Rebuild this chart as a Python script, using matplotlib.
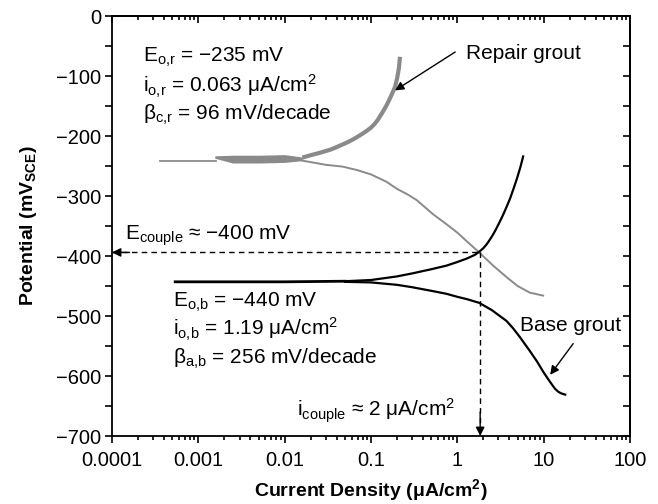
import matplotlib
matplotlib.use("Agg")
import matplotlib.pyplot as plt
import matplotlib.ticker as mticker
import numpy as np

plt.rcParams['font.family'] = ['Liberation Sans', 'DejaVu Sans']
plt.rcParams['mathtext.fontset'] = 'custom'
plt.rcParams['mathtext.rm'] = 'Liberation Sans'
plt.rcParams['mathtext.it'] = 'Liberation Sans'
plt.rcParams['mathtext.bf'] = 'Liberation Sans:bold'

# Repair grout (grey)
repair_flat_i = [0.00036, 0.0016]
repair_flat_E = [-241, -241]
repair_band_i = [0.00155, 0.0025, 0.005, 0.01, 0.016]
repair_band_hi = [-233, -232, -232, -231, -235]
repair_band_lo = [-237, -245, -245, -244, -241]
repair_up_i = [0.016, 0.02, 0.024, 0.03, 0.035, 0.047, 0.056, 0.065, 0.08, 0.09, 0.1,
               0.11, 0.12, 0.134, 0.15, 0.16, 0.175, 0.19, 0.2, 0.21, 0.217]
repair_up_E = [-236, -232, -229, -225, -222, -214, -209, -204, -196, -191, -186,
               -180, -173, -162, -150, -142, -130, -118, -105, -88, -68]
repair_dn_i = [0.016, 0.03, 0.047, 0.07, 0.1, 0.15, 0.2, 0.27, 0.34, 0.52, 0.75, 1.0,
               1.3, 1.79, 2.6, 3.78, 5.0, 6.9, 9.87]
repair_dn_E = [-241, -248, -251, -257, -264, -276, -288, -298, -307, -330, -347, -361,
               -376, -394, -416, -436, -450, -461, -466]

# Base grout (black)
base_flat_i = [0.00054, 0.002, 0.01, 0.05]
base_flat_E = [-443, -443, -443, -442]
base_up_i = [0.05, 0.1, 0.2, 0.3, 0.5, 0.75, 1.0, 1.3, 1.6, 1.79, 2.0, 2.2, 2.4, 2.6,
             2.79, 3.1, 3.4, 3.7, 4.09, 4.5, 4.93, 5.4, 5.79]
base_up_E = [-442, -440, -434, -429, -422, -416, -410, -404, -398, -393, -387, -380,
             -372, -364, -356, -343, -331, -319, -304, -287, -270, -251, -234]
base_dn_i = [0.05, 0.1, 0.2, 0.3, 0.5, 0.75, 1.0, 1.3, 1.79, 2.5, 3.7, 4.4, 5.3, 6.9,
             8.4, 10.0, 11.5, 12.3, 13.5, 14.7, 16.0, 17.8]
base_dn_E = [-443, -444, -448, -452, -458, -463, -468, -472, -478, -490, -508, -520,
             -535, -558, -576, -594, -607, -613, -621, -626, -629, -631]

couple_i = 1.84
couple_E = -394

xticks = [0.0001, 0.001, 0.01, 0.1, 1, 10, 100]
xtick_labels = ['0.0001', '0.001', '0.01', '0.1', '1', '10', '100']
yticks = [0, -100, -200, -300, -400, -500, -600, -700]

grey = '#8a8a8a'

fig = plt.figure(figsize=(6.58, 5.04), dpi=100)
ax = fig.add_axes([0.1702, 0.1349, 0.7872, 0.8333])

ax.plot(repair_flat_i, repair_flat_E, color=grey, lw=1.3)
ax.fill_between(repair_band_i, repair_band_lo, repair_band_hi, color=grey, lw=0)
ax.plot(repair_up_i, repair_up_E, color=grey, lw=3.0, solid_capstyle='butt')
ax.plot(repair_dn_i, repair_dn_E, color=grey, lw=1.4)

ax.plot(base_flat_i, base_flat_E, color='k', lw=2.0)
ax.plot(base_up_i, base_up_E, color='k', lw=1.6)
ax.plot(base_dn_i, base_dn_E, color='k', lw=1.6)

# couple lines
ax.plot([1e-4, couple_i], [couple_E, couple_E], color='k', lw=1.0, ls=(0, (4, 3)))
ax.plot([couple_i, couple_i], [couple_E, -700], color='k', lw=1.0, ls=(0, (4, 3)))
ax.annotate('', xy=(1e-4, couple_E), xytext=(1.6e-4, couple_E),
            arrowprops=dict(arrowstyle='-|>', color='k', lw=1.0, mutation_scale=13,
                            shrinkA=0, shrinkB=0), annotation_clip=False)
ax.annotate('', xy=(couple_i, -700), xytext=(couple_i, -660),
            arrowprops=dict(arrowstyle='-|>', color='k', lw=1.0, mutation_scale=13,
                            shrinkA=0, shrinkB=0), annotation_clip=False)

ax.set_xscale('log')
ax.set_xlim(1e-4, 100)
ax.set_ylim(-700, 0)
ax.set_xticks(xticks)
ax.set_xticklabels(xtick_labels)
ax.xaxis.set_minor_locator(mticker.LogLocator(base=10, subs=np.arange(2, 10)))
ax.xaxis.set_minor_formatter(mticker.NullFormatter())
ax.set_yticks(yticks)
ax.yaxis.set_minor_locator(mticker.MultipleLocator(50))

ax.tick_params(axis='both', which='both', labelsize=14.5, width=1.2)
ax.tick_params(axis='x', which='major', direction='out', length=5, top=False, pad=6)
ax.tick_params(axis='x', which='minor', direction='out', length=3, top=False)
ax.tick_params(axis='y', which='both', direction='out', length=5, right=False, pad=3)

# ticks pointing inward on top and right
axt = ax.secondary_xaxis('top')
axt.set_xticks(xticks)
axt.xaxis.set_minor_locator(mticker.LogLocator(base=10, subs=np.arange(2, 10)))
axt.tick_params(axis='x', which='major', direction='in', length=5, width=1.2, labeltop=False)
axt.tick_params(axis='x', which='minor', direction='in', length=3, width=1.2)
axt.xaxis.set_major_formatter(mticker.NullFormatter())
axt.xaxis.set_minor_formatter(mticker.NullFormatter())
axr = ax.secondary_yaxis('right')
axr.set_yticks(yticks)
axr.yaxis.set_minor_locator(mticker.MultipleLocator(50))
axr.tick_params(axis='y', which='both', direction='in', length=5, width=1.2, labelright=False)
axr.yaxis.set_major_formatter(mticker.NullFormatter())

for sp in list(ax.spines.values()) + list(axt.spines.values()) + list(axr.spines.values()):
    sp.set_linewidth(1.3)

ax.set_xlabel('Current Density (μA/cm$^{\\mathbf{2}}$)', fontsize=14, fontweight='bold', labelpad=5)
ax.set_ylabel('Potential (mV$_{\\mathbf{SCE}}$)', fontsize=14, fontweight='bold', labelpad=12)

fs = 15
def axpos(px, py):
    return ((px - 112) / 518, (436 - py) / 420)

txt = [
    ((143, 62), 'E$_{\\mathrm{o{,}r}}$ = −235 mV'),
    ((143, 92), 'i$_{\\mathrm{o{,}r}}$ = 0.063 μA/cm$^{2}$'),
    ((143, 120), 'β$_{\\mathrm{c{,}r}}$ = 96 mV/decade'),
    ((173, 307), 'E$_{\\mathrm{o{,}b}}$ = −440 mV'),
    ((173, 335), 'i$_{\\mathrm{o{,}b}}$ = 1.19 μA/cm$^{2}$'),
    ((173, 364), 'β$_{\\mathrm{a{,}b}}$ = 256 mV/decade'),
    ((125, 240), 'E$_{\\mathrm{couple}}$ ≈ −400 mV'),
    ((297, 416), 'i$_{\\mathrm{couple}}$ ≈ 2 μA/cm$^{2}$'),
    ((466, 59), 'Repair grout'),
    ((520, 331), 'Base grout'),
]
for (px, py), s in txt:
    ax.text(*axpos(px, py), s, transform=ax.transAxes, fontsize=fs, ha='left', va='baseline')

ax.annotate('', xy=(0.19, -124), xytext=(0.944, -60),
            arrowprops=dict(arrowstyle='-|>', color='k', lw=1.0, mutation_scale=13,
                            shrinkA=0, shrinkB=0))
ax.annotate('', xy=(11.9, -598), xytext=(22, -546),
            arrowprops=dict(arrowstyle='-|>', color='k', lw=1.0, mutation_scale=13,
                            shrinkA=0, shrinkB=0))

fig.savefig('out.png', dpi=100)
